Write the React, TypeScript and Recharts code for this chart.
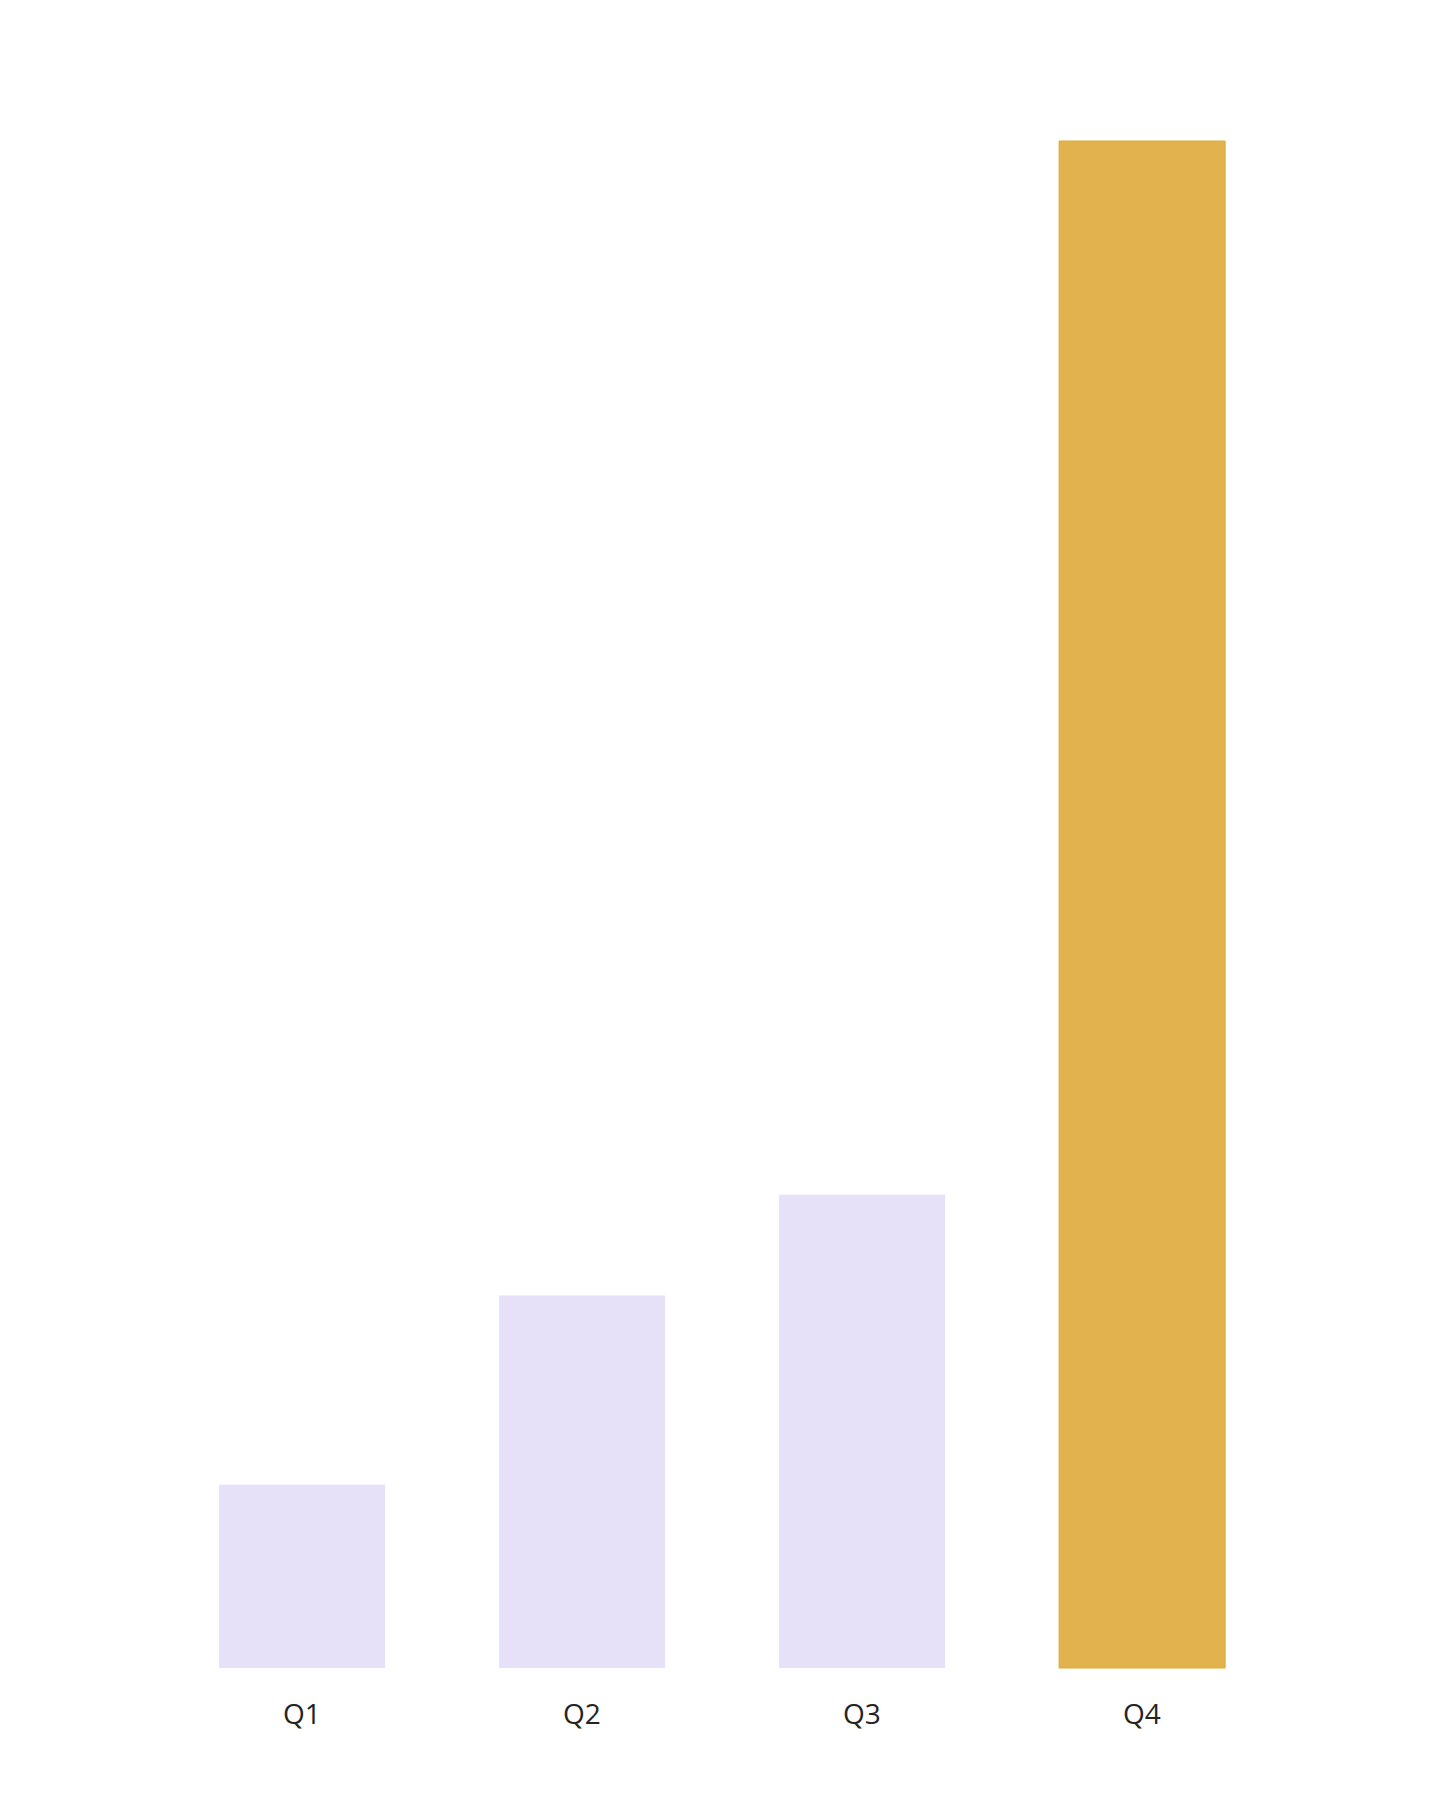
import { Bar, BarChart, Cell, XAxis, YAxis } from 'recharts';

const quarters = ['Q1', 'Q2', 'Q3', 'Q4'];
const values = [12, 24.4, 31, 100];
const highlight = ['Q4'];

const data = quarters.map((q, i) => ({ quarter: q, value: values[i] }));

export default function App() {
  return (
    <div style={{ width: 1430, height: 1790, background: '#fff' }}>
      <BarChart
        width={1430}
        height={1790}
        data={data}
        barCategoryGap="20.4%"
        margin={{ top: 133, right: 156, left: 154, bottom: 70 }}
      >
        <XAxis
          dataKey="quarter"
          axisLine={false}
          tickLine={false}
          height={60}
          tickMargin={30}
          tick={{ fontSize: 28, fill: '#252423', fontFamily: '"Open Sans", sans-serif' }}
        />
        <YAxis hide domain={[0, 100]} />
        <Bar dataKey="value" isAnimationActive={false}>
          {data.map((d) => (
            <Cell
              key={d.quarter}
              fill={highlight.includes(d.quarter) ? '#E2B24E' : '#E6E0F8'}
              stroke={highlight.includes(d.quarter) ? '#DFA92E' : 'none'}
              strokeWidth={1}
            />
          ))}
        </Bar>
      </BarChart>
    </div>
  );
}
